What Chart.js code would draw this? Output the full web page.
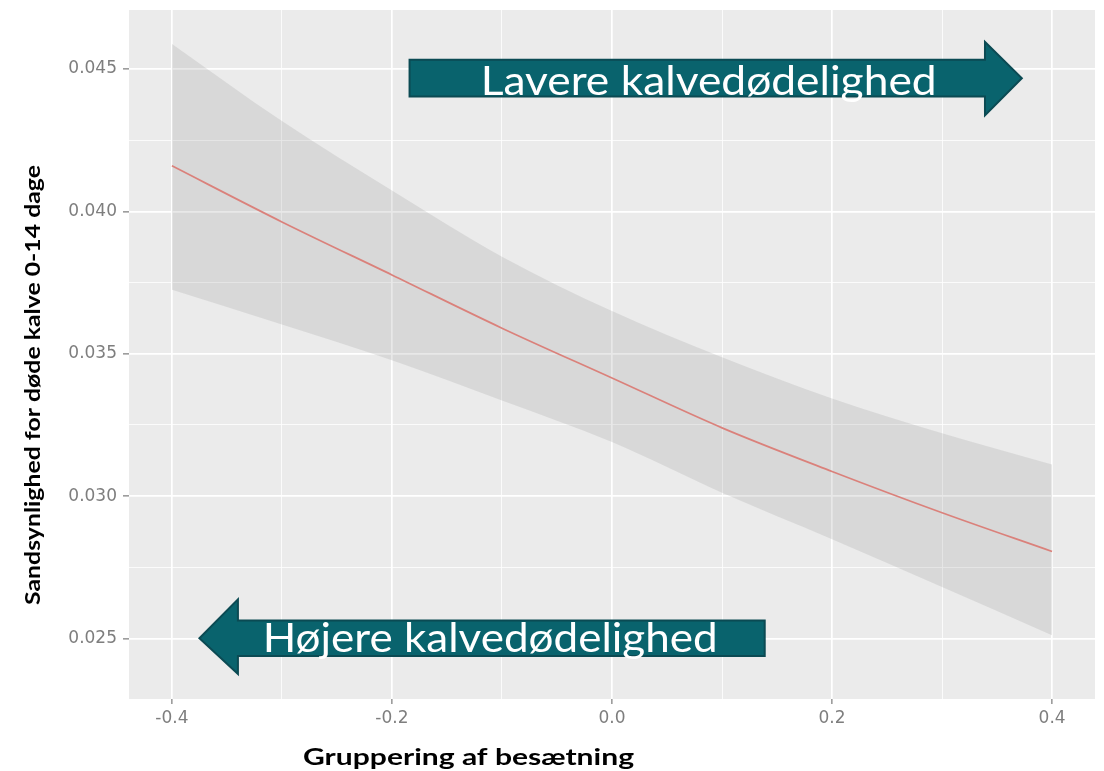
<!DOCTYPE html>
<html>
<head>
<meta charset="utf-8">
<script src="https://cdn.jsdelivr.net/npm/chart.js@4.4.1/dist/chart.umd.min.js"></script>
<style>
  html, body { margin: 0; padding: 0; background: #ffffff; }
  #wrap { width: 1104px; height: 771px; position: relative; }
</style>
</head>
<body>
<div id="wrap"><canvas id="chart" width="1104" height="771"></canvas></div>
<script>
// Herd grouping (x) and the modelled probability of dead calves 0-14 days
const groupValues  = [-0.4, -0.3, -0.2, -0.1, 0.0, 0.1, 0.2, 0.3, 0.4];
const fittedProb   = [0.04160, 0.03963, 0.03777, 0.03590, 0.03415, 0.03240, 0.03087, 0.02942, 0.02806];
const upperBand    = [0.04588, 0.04317, 0.04073, 0.03841, 0.03650, 0.03488, 0.03343, 0.03221, 0.03111];
const lowerBand    = [0.03725, 0.03603, 0.03477, 0.03336, 0.03190, 0.03012, 0.02849, 0.02681, 0.02512];

const xTickValues  = [-0.4, -0.2, 0.0, 0.2, 0.4];
const xTickLabels  = ['-0.4', '-0.2', '0.0', '0.2', '0.4'];
const yTickValues  = [0.025, 0.030, 0.035, 0.040, 0.045];
const yTickLabels  = ['0.025', '0.030', '0.035', '0.040', '0.045'];

const xTitle = 'Gruppering af besætning';
const yTitle = 'Sandsynlighed for døde kalve 0-14 dage';
const rightArrowText = 'Lavere kalvedødelighed';
const leftArrowText  = 'Højere kalvedødelighed';

// axis limits (panel edges)
const X_MIN = -0.439, X_MAX = 0.439;
const Y_MIN = 0.02288, Y_MAX = 0.04707;

const PANEL_BG = '#EBEBEB';
const ARROW_FILL = '#09636D';
const ARROW_EDGE = '#0B4A53';

const near = (a, b) => Math.abs(a - b) < 1e-9;
const majorIndex = (v, list) => list.findIndex(t => near(t, v));

// majors plus the midpoints between them (minor grid)
function withMinor(majors, lo, hi) {
  const step = majors[1] - majors[0];
  const out = [];
  for (let i = -1; i < majors.length; i++) {
    const base = i < 0 ? majors[0] - step : majors[i];
    if (i >= 0) out.push(base);
    const mid = base + step / 2;
    if (mid > lo && mid < hi) out.push(+mid.toFixed(6));
  }
  return out.sort((a, b) => a - b);
}

const points = arr => groupValues.map((x, i) => ({ x, y: arr[i] }));

function gridFor(majors) {
  return {
    color: '#FFFFFF',
    lineWidth: c => (c.tick && majorIndex(c.tick.value, majors) >= 0) ? 1.7 : 0.8,
    tickColor: c => (c.tick && majorIndex(c.tick.value, majors) >= 0) ? '#8C8C8C' : 'rgba(0,0,0,0)',
    tickWidth: 1.4,
    drawTicks: true
  };
}

// draw text squeezed/stretched to a given width
function fittedText(ctx, text, x, y, width, size, weight, family, align) {
  ctx.save();
  ctx.font = `${weight} ${size}px ${family}`;
  const w = ctx.measureText(text).width;
  const sx = width / w;
  ctx.translate(x, y);
  ctx.scale(sx, 1);
  ctx.textAlign = align;
  ctx.fillText(text, 0, 0);
  ctx.restore();
}

function arrowPath(ctx, pts) {
  ctx.beginPath();
  pts.forEach((p, i) => i ? ctx.lineTo(p[0], p[1]) : ctx.moveTo(p[0], p[1]));
  ctx.closePath();
}

const panelAndNotes = {
  id: 'panelAndNotes',
  beforeDraw(chart) {
    const { ctx, chartArea: a } = chart;
    ctx.save();
    ctx.fillStyle = PANEL_BG;
    ctx.fillRect(a.left, a.top, a.right - a.left, a.bottom - a.top);
    ctx.restore();
  },
  afterDatasetsDraw(chart) {
    const { ctx } = chart;
    const xs = chart.scales.x, ys = chart.scales.y;
    const X = v => xs.getPixelForValue(v), Y = v => ys.getPixelForValue(v);
    ctx.save();
    ctx.fillStyle = ARROW_FILL;
    ctx.strokeStyle = ARROW_EDGE;
    ctx.lineWidth = 2;
    ctx.lineJoin = 'miter';

    // right-pointing arrow
    const r = { l: X(-0.184), base: X(0.339), tip: X(0.3725),
                t: Y(0.04532), b: Y(0.04403), ht: Y(0.04595), hb: Y(0.04337) };
    const rm = (r.t + r.b) / 2;
    arrowPath(ctx, [[r.l, r.t], [r.base, r.t], [r.base, r.ht], [r.tip, rm],
                    [r.base, r.hb], [r.base, r.b], [r.l, r.b]]);
    ctx.fill(); ctx.stroke();

    // left-pointing arrow
    const l = { r: X(0.1388), base: X(-0.340), tip: X(-0.375),
                t: Y(0.02564), b: Y(0.02439), ht: Y(0.02638), hb: Y(0.02376) };
    const lm = (l.t + l.b) / 2;
    arrowPath(ctx, [[l.r, l.t], [l.base, l.t], [l.base, l.ht], [l.tip, lm],
                    [l.base, l.hb], [l.base, l.b], [l.r, l.b]]);
    ctx.fill(); ctx.stroke();

    ctx.fillStyle = '#FFFFFF';
    ctx.textBaseline = 'alphabetic';
    fittedText(ctx, rightArrowText, X(-0.1194), r.b - 2, 456, 40, 400, 'Lato, "Open Sans", sans-serif', 'left');
    fittedText(ctx, leftArrowText, X(-0.3175), l.b - 4, 455, 40, 400, 'Lato, "Open Sans", sans-serif', 'left');
    ctx.restore();
  },
  afterDraw(chart) {
    const { ctx } = chart;
    ctx.save();
    ctx.fillStyle = '#000000';
    ctx.textBaseline = 'alphabetic';
    fittedText(ctx, xTitle, 303, 765, 331, 23, 700, 'Lato, "Open Sans", sans-serif', 'left');
    // rotated y title
    ctx.translate(40, 605);
    ctx.rotate(-Math.PI / 2);
    fittedText(ctx, yTitle, 0, 0, 440, 20, 700, 'Lato, "Open Sans", sans-serif', 'left');
    ctx.restore();
  }
};

const tickFont = { family: '"DejaVu Sans", sans-serif', size: 17 };

new Chart(document.getElementById('chart'), {
  type: 'line',
  data: {
    datasets: [
      { label: 'upper', data: points(upperBand), borderWidth: 0, pointRadius: 0,
        fill: '+1', backgroundColor: 'rgba(150,150,150,0.22)', cubicInterpolationMode: 'monotone' },
      { label: 'lower', data: points(lowerBand), borderWidth: 0, pointRadius: 0,
        fill: false, cubicInterpolationMode: 'monotone' },
      { label: 'fit', data: points(fittedProb), borderColor: '#EE7C74', borderWidth: 1.7,
        pointRadius: 0, fill: false, cubicInterpolationMode: 'monotone' }
    ]
  },
  options: {
    responsive: false,
    animation: false,
    events: [],
    layout: { padding: { top: 10, right: 9, left: 0, bottom: 0 } },
    plugins: { legend: { display: false }, tooltip: { enabled: false } },
    scales: {
      x: {
        type: 'linear', min: X_MIN, max: X_MAX,
        afterBuildTicks: s => { s.ticks = withMinor(xTickValues, X_MIN, X_MAX).map(v => ({ value: v })); },
        afterFit: s => { s.height = 72; s.paddingLeft = 0; s.paddingRight = 0; },
        border: { display: false },
        grid: Object.assign(gridFor(xTickValues), { tickLength: 5 }),
        ticks: {
          autoSkip: false, maxRotation: 0, padding: 4, color: '#7E7E7E', font: tickFont,
          callback: v => { const i = majorIndex(v, xTickValues); return i >= 0 ? xTickLabels[i] : ''; }
        }
      },
      y: {
        type: 'linear', min: Y_MIN, max: Y_MAX,
        afterBuildTicks: s => { s.ticks = withMinor(yTickValues, Y_MIN, Y_MAX).map(v => ({ value: v })); },
        afterFit: s => { s.width = 129; s.paddingTop = 0; s.paddingBottom = 0; },
        border: { display: false },
        grid: Object.assign(gridFor(yTickValues), { tickLength: 6 }),
        ticks: {
          autoSkip: false, padding: 6, color: '#7E7E7E', font: tickFont,
          callback: v => { const i = majorIndex(v, yTickValues); return i >= 0 ? yTickLabels[i] : ''; }
        }
      }
    }
  },
  plugins: [panelAndNotes]
});
</script>
</body>
</html>
